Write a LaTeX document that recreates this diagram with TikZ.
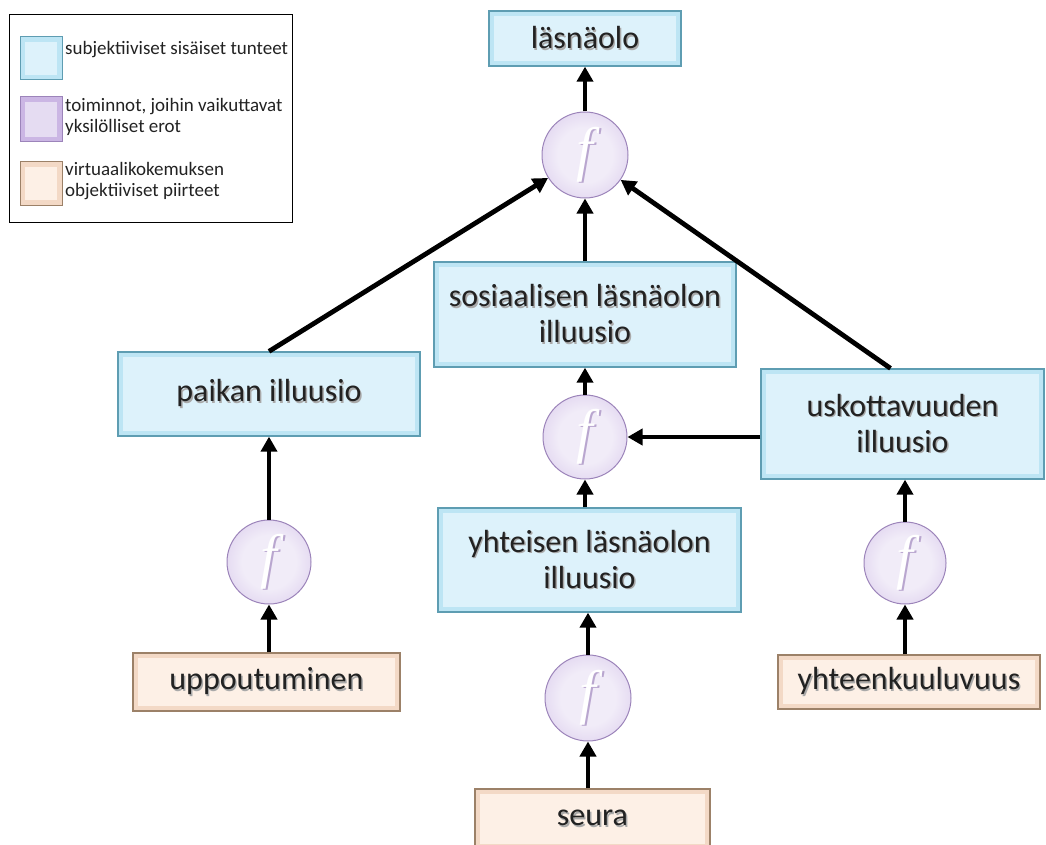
\documentclass[tikz,border=0pt]{standalone}
\usepackage{fontspec}
\setmainfont{Carlito}
\newfontfamily\funcfont{Liberation Serif}
\usetikzlibrary{arrows.meta,calc}

\definecolor{txt}{HTML}{222222}
\definecolor{txtshadow}{HTML}{A9A9A9}
\definecolor{blueedge}{HTML}{BDE5F4}
\definecolor{blueinner}{HTML}{DDF2FB}
\definecolor{bluebord}{HTML}{5E9DB2}
\definecolor{beigeedge}{HTML}{F3D9C6}
\definecolor{beigeinner}{HTML}{FDF0E6}
\definecolor{beigebord}{HTML}{9C8168}
\definecolor{lilacin}{HTML}{F1ECF8}
\definecolor{lilacout}{HTML}{CBB6E4}
\definecolor{lilacbord}{HTML}{9C84BA}
\definecolor{fshadow}{HTML}{B9A6CF}

% text with a soft offset shadow behind it
\newcommand\shd[2][txtshadow]{\leavevmode\rlap{\hspace{1.4pt}\raisebox{-1.4pt}{\textcolor{#1}{#2}}}#2}

\pgfdeclareradialshading{fball}{\pgfpoint{0bp}{0bp}}{%
  color(0bp)=(lilacin); color(16bp)=(lilacin); color(46bp)=(lilacout); color(50bp)=(lilacout)}

\tikzset{
  bevel/.style 2 args={
    fill=#1,
    path picture={
      \fill[#2] ([shift={(5pt,-5pt)}]path picture bounding box.north west)
        rectangle ([shift={(-5pt,5pt)}]path picture bounding box.south east);
    }},
  feeling/.style={draw=bluebord, line width=1.3pt, bevel={blueedge}{blueinner},
    text=txt, align=center, inner sep=0pt,
    font=\fontsize{32}{36}\selectfont},
  feature/.style={draw=beigebord, line width=1.3pt, bevel={beigeedge}{beigeinner},
    text=txt, align=center, inner sep=0pt,
    font=\fontsize{32}{36}\selectfont},
  func/.style={circle, draw=lilacbord, line width=1pt, shading=fball,
    minimum size=#1, inner sep=0pt, text=white,
    font=\funcfont\itshape\fontsize{60}{60}\selectfont},
  func/.default=84pt,
  flow/.style={line width=4.8pt, -{Triangle[length=15pt,width=16pt]}},
  legendtxt/.style={anchor=west, text=txt, align=left, inner sep=0pt,
    font=\fontsize{19}{21}\selectfont},
}

\begin{document}
\begin{tikzpicture}[x=1pt,y=-1pt]
\useasboundingbox (0,0) rectangle (1046,845);

% legend
\node[draw=black, line width=1pt, minimum width=283pt, minimum height=208pt,
  anchor=north west, inner sep=0pt] (legend) at (9,14) {};
\node[draw=bluebord, line width=1pt, bevel={blueedge}{blueinner},
  minimum width=42pt, minimum height=43pt, inner sep=0pt] (swA) at (41,58.5) {};
\node[draw=lilacbord, line width=1pt, bevel={lilacout}{lilacin!70!lilacout},
  minimum width=42pt, minimum height=45pt, inner sep=0pt] (swB) at (41,119.5) {};
\node[draw=beigebord, line width=1pt, bevel={beigeedge}{beigeinner},
  minimum width=42pt, minimum height=43pt, inner sep=0pt] (swC) at (41,183.5) {};
\node[legendtxt] (lgA) at (65,50) {subjektiiviset sisäiset tunteet};
\node[legendtxt] (lgB) at (65,117) {toiminnot, joihin vaikuttavat\\yksilölliset erot};
\node[legendtxt] (lgC) at (65,181) {virtuaalikokemuksen\\objektiiviset piirteet};

% feelings
\node[feeling, minimum width=192pt, minimum height=55pt] (lasna) at (585,38.5) {\shd{läsnäolo}};
\node[feeling, minimum width=302pt, minimum height=105pt] (sos) at (585,314.5)
  {\shd{sosiaalisen läsnäolon}\\\shd{illuusio}};
\node[feeling, minimum width=302pt, minimum height=84pt] (paikka) at (269,394) {\shd{paikan illuusio}};
\node[feeling, minimum width=283pt, minimum height=110pt] (usko) at (902.5,424)
  {\shd{uskottavuuden}\\\shd{illuusio}};
\node[feeling, minimum width=303pt, minimum height=104pt] (yht) at (589.5,560)
  {\shd{yhteisen läsnäolon}\\\shd{illuusio}};

% features
\node[feature, minimum width=267pt, minimum height=58pt] (upp) at (266.5,682) {\shd{uppoutuminen}};
\node[feature, minimum width=235pt, minimum height=60pt] (seura) at (592.5,819) {\shd{seura}};
\node[feature, minimum width=262pt, minimum height=54pt] (yhteen) at (909,682) {\shd{yhteenkuuluvuus}};

% functions
\node[func=86pt] (ftop) at (585,155) {\shd[fshadow]{f}};
\node[func] (fmid) at (585,437) {\shd[fshadow]{f}};
\node[func] (fleft) at (269,562) {\shd[fshadow]{f}};
\node[func=82pt] (fright) at (905,563) {\shd[fshadow]{f}};
\node[func=86pt] (fbot) at (588,698) {\shd[fshadow]{f}};

% connectors
\draw[flow] (ftop) -- (lasna.south -| ftop);
\draw[flow] (sos.north -| ftop) -- (ftop);
\draw[flow] (paikka.north) -- (ftop);
\draw[flow] ($(usko.north)+(-12,0)$) -- (ftop);
\draw[flow] (fmid) -- (sos.south -| fmid);
\draw[flow] (usko.west |- fmid) -- (fmid);
\draw[flow] (yht.north -| fmid) -- (fmid);
\draw[flow] (fbot) -- (yht.south -| fbot);
\draw[flow] (seura.north -| fbot) -- (fbot);
\draw[flow] (fleft) -- (paikka.south -| fleft);
\draw[flow] (upp.north -| fleft) -- (fleft);
\draw[flow] (fright) -- (usko.south -| fright);
\draw[flow] (yhteen.north -| fright) -- (fright);
\end{tikzpicture}
\end{document}
